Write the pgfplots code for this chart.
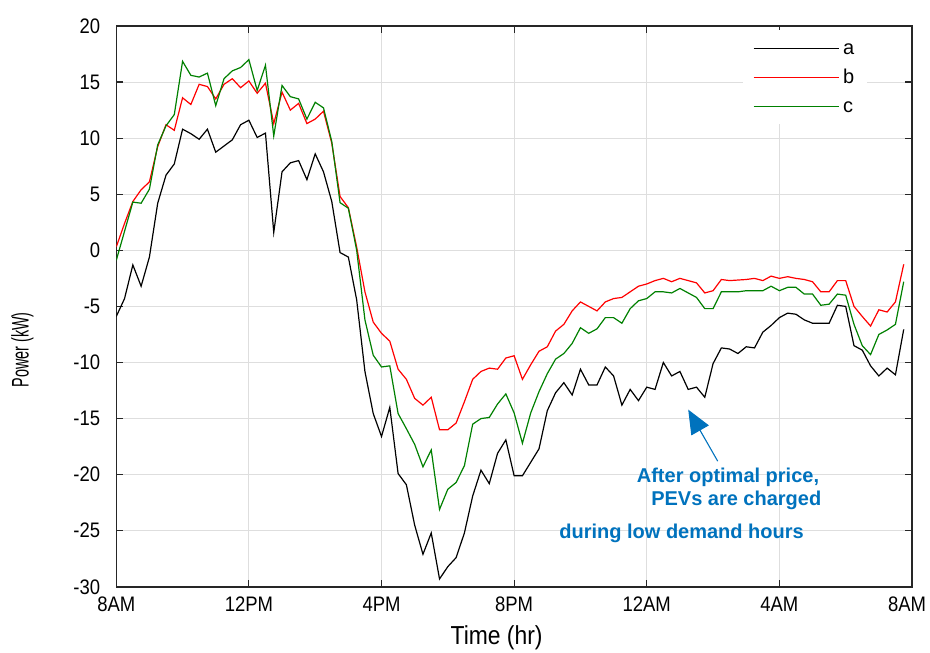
\documentclass[border=0pt]{standalone}
\usepackage{fontspec}
\setmainfont{Liberation Sans}
\newfontfamily\tickfont[FakeStretch=0.88]{Liberation Sans}
\usepackage{pgfplots}
\usepackage{pgfplotstable}
\pgfplotsset{compat=1.18}
\usetikzlibrary{arrows.meta}
\definecolor{annot}{HTML}{0072BD}
\definecolor{axgray}{gray}{0.15}

% t in hours after 8AM; a, b, c in kW
\pgfplotstableread{
t a b c
0.00 -5.9 0.3 -0.9
0.25 -4.3 2.4 1.7
0.50 -1.3 4.35 4.3
0.75 -3.2 5.4 4.2
1.00 -0.6 6.1 5.45
1.25 4.2 9.25 9.4
1.50 6.7 11.2 11.1
1.75 7.7 10.7 12.1
2.00 10.8 13.6 16.85
2.25 10.4 13.0 15.6
2.50 9.9 14.8 15.45
2.75 10.8 14.6 15.8
3.00 8.75 13.5 12.9
3.25 9.3 14.8 15.3
3.50 9.85 15.3 16.0
3.75 11.2 14.5 16.3
4.00 11.6 15.1 17.0
4.25 10.06 14.0 14.25
4.50 10.45 14.9 16.5
4.75 1.6 11.3 10.2
5.00 7.0 14.1 14.7
5.25 7.8 12.5 13.7
5.50 8.0 13.1 13.5
5.75 6.3 11.3 11.7
6.00 8.6 11.7 13.2
6.25 7.0 12.4 12.7
6.50 4.35 9.55 9.7
6.75 -0.2 4.8 4.25
7.00 -0.6 3.8 3.75
7.25 -4.4 0.3 0.03
7.50 -10.8 -3.7 -6.2
7.75 -14.55 -6.4 -9.35
8.00 -16.6 -7.4 -10.4
8.25 -14.0 -8.1 -10.3
8.50 -19.9 -10.6 -14.55
8.75 -20.9 -11.5 -15.9
9.00 -24.5 -13.2 -17.3
9.25 -27.1 -13.8 -19.3
9.50 -25.2 -13.1 -17.8
9.75 -29.3 -16.0 -23.1
10.00 -28.2 -16.0 -21.3
10.25 -27.4 -15.4 -20.7
10.50 -25.2 -13.5 -19.2
10.75 -21.9 -11.5 -15.5
11.00 -19.6 -10.8 -15.0
11.25 -20.8 -10.5 -14.9
11.50 -18.1 -10.6 -13.7
11.75 -16.9 -9.6 -12.8
12.00 -20.1 -9.4 -14.5
12.25 -20.1 -11.5 -17.2
12.50 -18.9 -10.2 -14.5
12.75 -17.7 -9.0 -12.6
13.00 -14.3 -8.6 -11.0
13.25 -12.7 -7.2 -9.7
13.50 -11.8 -6.6 -9.2
13.75 -12.9 -5.4 -8.3
14.00 -10.6 -4.6 -6.9
14.25 -12.0 -5.0 -7.4
14.50 -12.0 -5.4 -7.0
14.75 -10.4 -4.6 -6.0
15.00 -11.2 -4.3 -6.0
15.25 -13.8 -4.2 -6.5
15.50 -12.4 -3.7 -5.2
15.75 -13.4 -3.2 -4.5
16.00 -12.2 -3.0 -4.3
16.25 -12.4 -2.7 -3.7
16.50 -10.0 -2.5 -3.7
16.75 -11.2 -2.8 -3.8
17.00 -10.8 -2.5 -3.4
17.25 -12.4 -2.7 -3.8
17.50 -12.2 -2.9 -4.2
17.75 -13.1 -3.8 -5.2
18.00 -10.1 -3.6 -5.2
18.25 -8.7 -2.6 -3.7
18.50 -8.8 -2.7 -3.7
18.75 -9.2 -2.65 -3.7
19.00 -8.6 -2.6 -3.6
19.25 -8.7 -2.5 -3.6
19.50 -7.3 -2.7 -3.6
19.75 -6.7 -2.3 -3.2
20.00 -6.0 -2.5 -3.6
20.25 -5.6 -2.35 -3.3
20.50 -5.7 -2.5 -3.3
20.75 -6.2 -2.6 -3.9
21.00 -6.5 -2.8 -3.9
21.25 -6.5 -3.7 -4.9
21.50 -6.5 -3.7 -4.8
21.75 -4.9 -2.7 -3.9
22.00 -5.0 -2.7 -4.0
22.25 -8.5 -5.0 -6.6
22.50 -8.9 -5.9 -8.5
22.75 -10.3 -6.75 -9.3
23.00 -11.2 -5.3 -7.5
23.25 -10.5 -5.5 -7.1
23.50 -11.1 -4.6 -6.6
23.75 -7.05 -1.25 -2.8
}\power

\begin{document}
\begin{tikzpicture}
\useasboundingbox (-58.15pt,-33pt) rectangle (407pt,293.5pt);
\begin{axis}[
  scale only axis, width=398pt, height=280.5pt,
  xmin=0, xmax=24, ymin=-30, ymax=20,
  xtick={0,4,...,24},
  xticklabels={8AM,12PM,4PM,8PM,12AM,4AM,\hspace*{-5pt}8AM},
  ytick={-30,-25,...,20},
  yticklabels={-30,-25,-20,-15,-10,-5,0,5,10,15,20},
  tick label style={font=\tickfont\fontsize{10.5}{12}\selectfont},
  xticklabel style={yshift=-1.5pt},
  yticklabel style={xshift=-4.5pt},
  tick align=inside, major tick length=3.5pt,
  every tick/.style={axgray, line width=0.6pt},
  grid=major, major grid style={black!13, line width=0.5pt},
  axis line style={axgray, line width=0.75pt},
  xlabel={Time (hr)},
  ylabel={\scalebox{0.6}[1]{Power (kW)}},
  xlabel style={font=\tickfont\fontsize{13}{14}\selectfont, at={(axis description cs:0.478,-0.091)}, anchor=center},
  ylabel style={font=\fontsize{12}{14}\selectfont, at={(axis description cs:-0.118,0.4225)}, anchor=center, rotate=0},
  legend style={at={(axis description cs:0.787,0.993)}, anchor=north west,
    draw=none, fill=white, font=\fontsize{10}{12}\selectfont,
    inner xsep=5pt, inner ysep=3pt, row sep=2.5pt,
    nodes={inner sep=1.5pt, text height=7.5pt, text depth=1.5pt}},
  legend cell align=left,
  legend image code/.code={\draw[#1, line width=0.6pt] (0pt,0pt) -- (43pt,0pt);},
]
\addplot[black, line width=0.6pt] table[x=t, y=a] {\power};
\addplot[red, line width=0.6pt] table[x=t, y=b] {\power};
\addplot[green!50!black, line width=0.6pt] table[x=t, y=c] {\power};
\legend{a,b,c}
\draw[annot, line width=0.55pt, -{Triangle[length=12pt, width=10pt]}]
  (axis cs:18.14,-18.8) -- (axis cs:17.25,-14.2);
\node[annot, font=\bfseries\fontsize{10}{12}\selectfont] at (axis cs:18.45,-20.2) {After optimal price,};
\node[annot, font=\bfseries\fontsize{10}{12}\selectfont] at (axis cs:18.7,-22.3) {PEVs are charged};
\node[annot, font=\bfseries\fontsize{10}{12}\selectfont] at (axis cs:17.05,-25.2) {during low demand hours};
\end{axis}
\end{tikzpicture}
\end{document}
